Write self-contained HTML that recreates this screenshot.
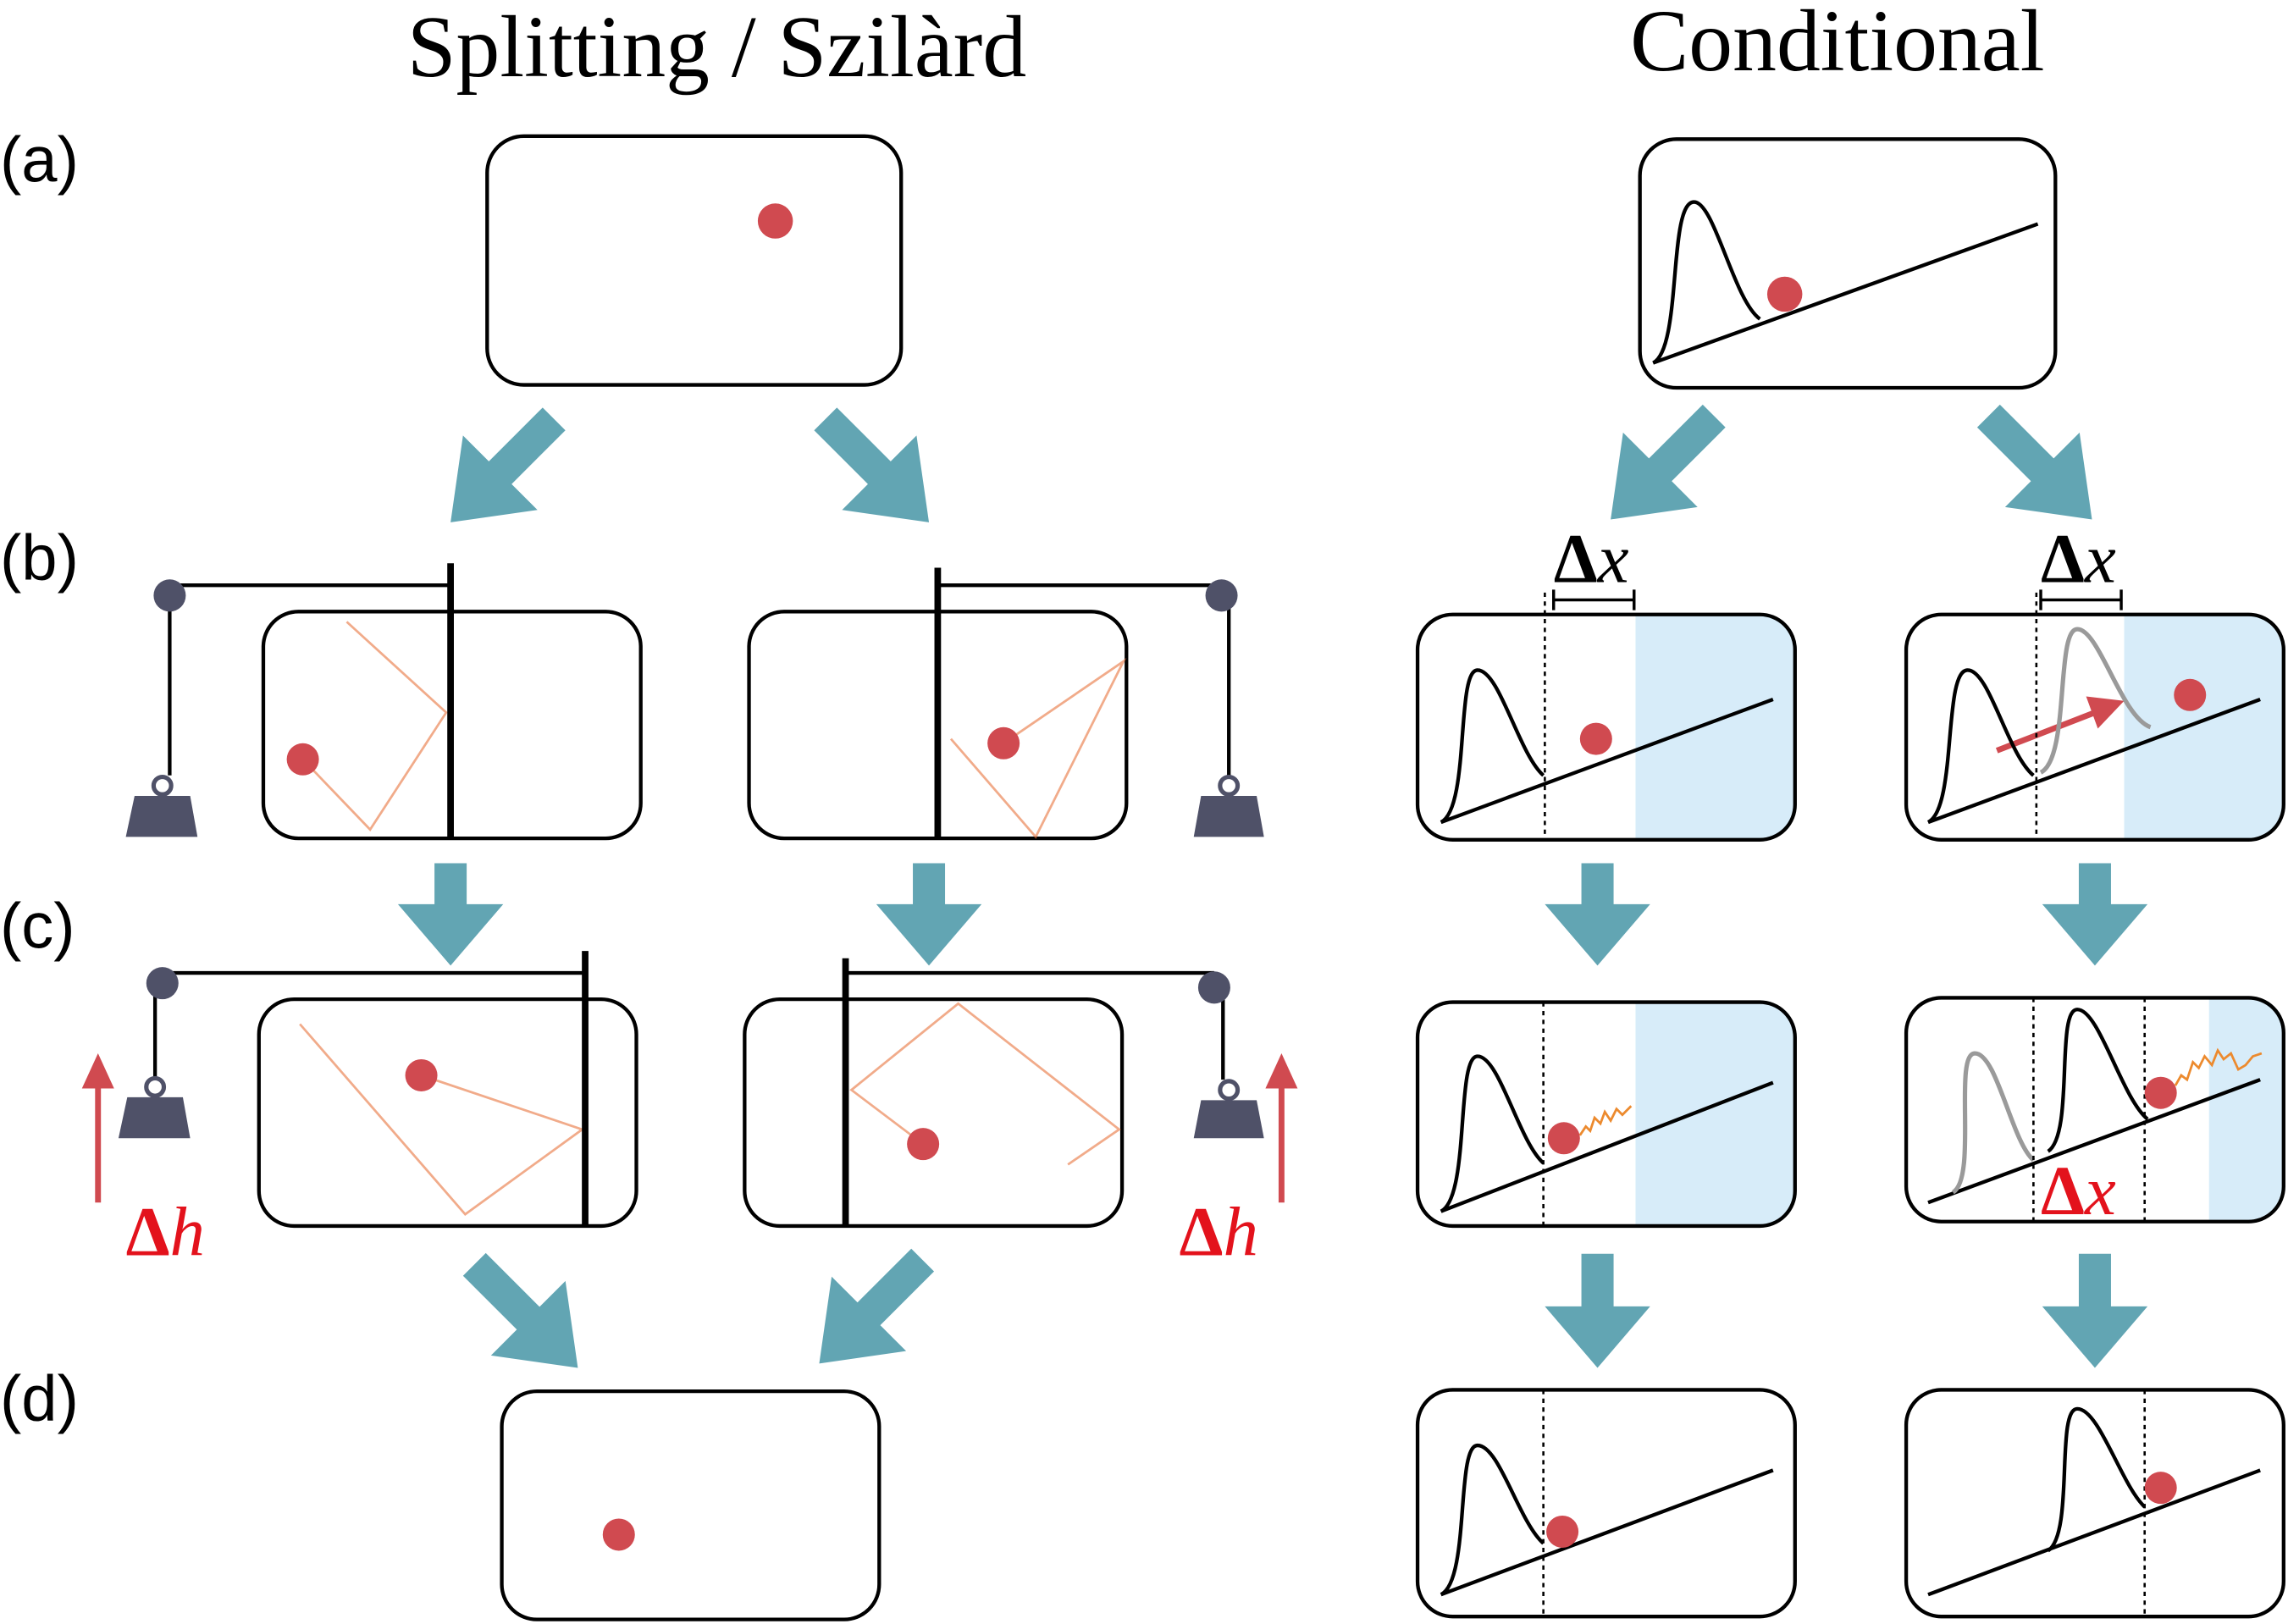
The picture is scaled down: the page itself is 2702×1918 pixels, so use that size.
<!DOCTYPE html>
<html><head><meta charset="utf-8"><style>
html,body{margin:0;padding:0;background:#fff;}
svg{display:block;}
</style></head><body>
<svg width="2702" height="1918" viewBox="0 0 1564 1110" xmlns="http://www.w3.org/2000/svg">
<g font-family="'Liberation Serif', serif" font-size="60" text-anchor="middle" fill="#000">
<text x="490" y="52">Splitting / Szilàrd</text>
<text x="1256" y="48">Conditional</text>
</g>
<g font-family="'Liberation Sans', sans-serif" font-size="44" fill="#000">
<text x="0" y="124">(a)</text>
<text x="0" y="396">(b)</text>
<text x="0" y="648">(c)</text>
<text x="0" y="971">(d)</text>
</g>
<g fill="#d7ecf9">
<path d="M1118,420 H1203 A24,24 0 0 1 1227,444 V550 A24,24 0 0 1 1203,574 H1118 Z"/>
<path d="M1118,685 H1203 A24,24 0 0 1 1227,709 V814 A24,24 0 0 1 1203,838 H1118 Z"/>
<path d="M1452,420 H1537 A24,24 0 0 1 1561,444 V550 A24,24 0 0 1 1537,574 H1452 Z"/>
<path d="M1510,682 H1537 A24,24 0 0 1 1561,706 V811 A24,24 0 0 1 1537,835 H1510 Z"/>
</g>
<g fill="none" stroke="#000" stroke-width="2.5">
<rect x="333" y="93" width="283" height="170" rx="25"/>
<rect x="180" y="418" width="258" height="155" rx="24"/>
<rect x="512" y="418" width="258" height="155" rx="24"/>
<rect x="177" y="683" width="258" height="155" rx="24"/>
<rect x="509" y="683" width="258" height="155" rx="24"/>
<rect x="343" y="951" width="258" height="156" rx="24"/>
<rect x="1121" y="95" width="284" height="170" rx="25"/>
<rect x="969" y="420" width="258" height="154" rx="24"/>
<rect x="1303" y="420" width="258" height="154" rx="24"/>
<rect x="969" y="685" width="258" height="153" rx="24"/>
<rect x="1303" y="682" width="258" height="153" rx="24"/>
<rect x="969" y="950" width="258" height="155" rx="24"/>
<rect x="1303" y="950" width="258" height="155" rx="24"/>
</g>
<g fill="#62a5b3">
<g transform="translate(308,357) rotate(135)"><path d="M-100,-11 H-48 V-36 L0,0 L-48,36 V11 H-100 Z"/></g>
<g transform="translate(635,357) rotate(45)"><path d="M-100,-11 H-48 V-36 L0,0 L-48,36 V11 H-100 Z"/></g>
<g transform="translate(1101,355) rotate(135)"><path d="M-100,-11 H-48 V-36 L0,0 L-48,36 V11 H-100 Z"/></g>
<g transform="translate(1430,355) rotate(45)"><path d="M-100,-11 H-48 V-36 L0,0 L-48,36 V11 H-100 Z"/></g>
<g transform="translate(395,935) rotate(45)"><path d="M-100,-11 H-48 V-36 L0,0 L-48,36 V11 H-100 Z"/></g>
<g transform="translate(560,932) rotate(135)"><path d="M-100,-11 H-48 V-36 L0,0 L-48,36 V11 H-100 Z"/></g>
<g transform="translate(308,660) rotate(90)"><path d="M-70,-11 H-42 V-36 L0,0 L-42,36 V11 H-70 Z"/></g>
<g transform="translate(635,660) rotate(90)"><path d="M-70,-11 H-42 V-36 L0,0 L-42,36 V11 H-70 Z"/></g>
<g transform="translate(1092,660) rotate(90)"><path d="M-70,-11 H-42 V-36 L0,0 L-42,36 V11 H-70 Z"/></g>
<g transform="translate(1432,660) rotate(90)"><path d="M-70,-11 H-42 V-36 L0,0 L-42,36 V11 H-70 Z"/></g>
<g transform="translate(1092,935) rotate(90)"><path d="M-78,-11 H-42 V-36 L0,0 L-42,36 V11 H-78 Z"/></g>
<g transform="translate(1432,935) rotate(90)"><path d="M-78,-11 H-42 V-36 L0,0 L-42,36 V11 H-78 Z"/></g>
</g>
<g fill="none" stroke-width="1.6">
<polyline stroke="#e8733c" stroke-opacity="0.6" points="207,519 253,567 305,487 237,425"/>
<polyline stroke="#e8733c" stroke-opacity="0.6" points="686,508 768,452 708,572 650,505"/>
<polyline stroke="#e8733c" stroke-opacity="0.6" points="288,735 398,772 318,830 205,700"/>
<polyline stroke="#e8733c" stroke-opacity="0.6" points="631,782 582,745 655,686 765,772 730,796"/>
<polyline stroke="#ec8a2e" points="1080,776 1084,770 1087,773 1090,764 1094,768 1097,760 1101,766 1105,758 1109,762 1115,756"/>
<polyline stroke="#ec8a2e" points="1487,742 1491,735 1495,738 1499,726 1503,730 1507,722 1512,728 1516,718 1520,724 1525,720 1530,731 1535,728 1540,722 1546,720"/>
</g>
<g stroke="#000" stroke-width="2.5" fill="none">
<path d="M116,400 H308 M116,407 V530"/>
<path d="M641,400 H835 M840,407 V530"/>
<path d="M111,665 H400 M106,672 V736"/>
<path d="M578,665 H830 M836,675 V738"/>
</g>
<g stroke="#000" stroke-width="4.5">
<line x1="308" y1="385" x2="308" y2="573"/>
<line x1="641" y1="388" x2="641" y2="573"/>
<line x1="400" y1="650" x2="400" y2="838"/>
<line x1="578" y1="655" x2="578" y2="838"/>
</g>
<g fill="#4f5168">
<circle cx="116" cy="407" r="11"/>
<circle cx="835" cy="407" r="11"/>
<circle cx="111" cy="672" r="11"/>
<circle cx="830" cy="675" r="11"/>
<g><circle cx="111" cy="537" r="6" fill="none" stroke="#4f5168" stroke-width="3"/><path d="M92,544 H130 L135,572 H86 Z"/></g>
<g><circle cx="840" cy="537" r="6" fill="none" stroke="#4f5168" stroke-width="3"/><path d="M821,544 H859 L864,572 H816 Z"/></g>
<g><circle cx="106" cy="743" r="6" fill="none" stroke="#4f5168" stroke-width="3"/><path d="M87,750 H125 L130,778 H81 Z"/></g>
<g><circle cx="840" cy="745" r="6" fill="none" stroke="#4f5168" stroke-width="3"/><path d="M821,752 H859 L864,778 H816 Z"/></g>
</g>
<g fill="#d04a50" stroke="#d04a50">
<g><line x1="67" y1="822" x2="67" y2="740" stroke-width="4"/><path d="M56,744 L67,720 L78,744 Z" stroke="none"/></g>
<g><line x1="876" y1="822" x2="876" y2="740" stroke-width="4"/><path d="M865,744 L876,720 L887,744 Z" stroke="none"/></g>
<g><line x1="1365" y1="513" x2="1432" y2="487" stroke-width="4"/><path d="M1426,476 L1452,479 L1434,498 Z" stroke="none"/></g>
</g>
<g fill="none" stroke="#000" stroke-width="2.5">
<line x1="1130" y1="248" x2="1393" y2="153"/>
<path d="M1130,248 C1150,238 1140,138 1158,138 C1172,138 1185,205 1203,218"/>
<line x1="985" y1="562" x2="1212" y2="478"/>
<path d="M985,562 C1005,552 995,458 1010,458 C1025,458 1038,515 1055,530"/>
<line x1="1318" y1="562" x2="1545" y2="478"/>
<path d="M1318,562 C1338,552 1328,458 1345,458 C1360,458 1372,515 1390,530"/>
<line x1="985" y1="828" x2="1212" y2="740"/>
<path d="M985,828 C1005,818 995,722 1010,722 C1025,722 1038,780 1055,795"/>
<line x1="1318" y1="822" x2="1545" y2="738"/>
<path d="M1400,787 C1418,775 1405,690 1420,690 C1435,690 1450,750 1468,765"/>
<line x1="985" y1="1090" x2="1212" y2="1005"/>
<path d="M985,1090 C1005,1080 995,988 1010,988 C1025,988 1038,1040 1055,1055"/>
<line x1="1318" y1="1090" x2="1545" y2="1005"/>
<path d="M1400,1060 C1418,1048 1405,963 1420,963 C1435,963 1450,1015 1466,1030"/>
</g>
<g fill="none" stroke="#9a9a9a" stroke-width="3">
<path d="M1395,528 C1415,518 1405,430 1420,430 C1435,430 1450,490 1470,497"/>
<path d="M1335,815 C1352,805 1335,720 1350,720 C1365,720 1375,780 1390,793"/>
</g>
<g stroke="#000" stroke-width="1.5" stroke-dasharray="3,3">
<line x1="1056" y1="405" x2="1056" y2="574"/>
<line x1="1392" y1="405" x2="1392" y2="574"/>
<line x1="1055" y1="685" x2="1055" y2="838"/>
<line x1="1390" y1="682" x2="1390" y2="835"/>
<line x1="1466" y1="682" x2="1466" y2="835"/>
<line x1="1055" y1="950" x2="1055" y2="1105"/>
<line x1="1466" y1="950" x2="1466" y2="1105"/>
</g>
<g stroke="#000" stroke-width="2">
<path d="M1062,410 H1117 M1062,403 V417 M1117,403 V417"/>
<path d="M1395,410 H1450 M1395,403 V417 M1450,403 V417"/>
</g>
<g font-family="'Liberation Serif', serif" font-size="48" font-weight="bold">
<text x="1062" y="398">Δ<tspan font-style="italic" font-weight="normal">x</tspan></text>
<text x="1395" y="398">Δ<tspan font-style="italic" font-weight="normal">x</tspan></text>
<text x="1395" y="830" fill="#e3121c">Δ<tspan font-style="italic" font-weight="normal">x</tspan></text>
<text x="86" y="858" fill="#e3121c">Δ<tspan font-style="italic" font-weight="normal">h</tspan></text>
<text x="806" y="858" fill="#e3121c">Δ<tspan font-style="italic" font-weight="normal">h</tspan></text>
</g>
<g fill="#d04a50">
<circle cx="530" cy="151" r="12"/>
<circle cx="207" cy="519" r="11"/>
<circle cx="686" cy="508" r="11"/>
<circle cx="288" cy="735" r="11"/>
<circle cx="631" cy="782" r="11"/>
<circle cx="423" cy="1049" r="11"/>
<circle cx="1220" cy="201" r="12"/>
<circle cx="1091" cy="505" r="11"/>
<circle cx="1497" cy="475" r="11"/>
<circle cx="1069" cy="778" r="11"/>
<circle cx="1477" cy="747" r="11"/>
<circle cx="1068" cy="1047" r="11"/>
<circle cx="1477" cy="1017" r="11"/>
</g>
</svg>
</body></html>
